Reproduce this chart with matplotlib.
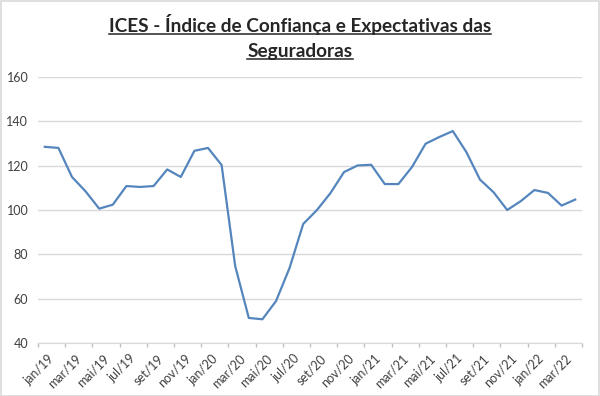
import matplotlib
matplotlib.use("Agg")
import matplotlib.pyplot as plt
from matplotlib.lines import Line2D
from matplotlib.patches import Rectangle

# monthly labels jan/19 .. abr/22
months = ['jan', 'fev', 'mar', 'abr', 'mai', 'jun', 'jul', 'ago', 'set', 'out', 'nov', 'dez']
labels = ['%s/%02d' % (m, y) for y in (19, 20, 21, 22) for m in months][:40]

ices = [128.5, 128.0, 114.9, 108.4, 100.6, 102.4, 110.8, 110.4, 110.8, 118.3,
        114.9, 126.7, 128.0, 120.3, 74.7, 51.3, 50.7, 58.9, 73.9, 93.7,
        99.9, 107.6, 117.1, 120.1, 120.4, 111.7, 111.7, 119.4, 129.9, 132.9,
        135.6, 126.1, 113.7, 108.0, 100.0, 104.0, 109.0, 107.7, 102.0, 104.7]

yticks = [40, 60, 80, 100, 120, 140, 160]
title_lines = ['ICES - Índice de Confiança e Expectativas das', 'Seguradoras']

W, H = 600, 396
fig = plt.figure(figsize=(6, 3.96), dpi=100)
fig.patch.set_facecolor('white')
fig.patches.append(Rectangle((0.5 / W, 0.5 / H), 1 - 1.5 / W, 1 - 1.5 / H, transform=fig.transFigure,
                             fill=False, edgecolor='#d9d9d9', lw=1.2))

ax = fig.add_axes([38 / W, 53 / H, 544 / W, 266 / H])
x = list(range(len(ices)))
ax.plot(x, ices, color='#5486bd', lw=1.6, solid_joinstyle='round')

ax.set_xlim(-0.5, len(ices) - 0.5)
ax.set_ylim(40, 160)
ax.set_yticks(yticks)
ax.set_yticklabels([str(v) for v in yticks], fontsize=9, color='#404040', family='Lato')
ax.yaxis.grid(True, color='#d9d9d9', lw=1)
ax.set_axisbelow(True)
ax.tick_params(axis='y', length=0, pad=7)

# category ticks between every 2 months, labels centred on the month
ax.set_xticks([i - 0.5 for i in range(0, len(ices) + 1, 2)], minor=False)
ax.set_xticklabels([])
ax.tick_params(axis='x', length=3, color='#bfbfbf', width=1, direction='out')
for i in range(0, len(ices), 2):
    ax.text(i + 0.25, 35.8, labels[i], rotation=45, ha='right', va='top', rotation_mode='anchor',
            fontsize=9, color='#404040', family='Lato')

for s in ['top', 'right', 'left']:
    ax.spines[s].set_visible(False)
ax.spines['bottom'].set_color('#d9d9d9')

# title, underlined by hand
fig.canvas.draw()
r = fig.canvas.get_renderer()
for txt, yb in zip(title_lines, [32, 57]):
    t = fig.text(0.5, 1 - yb / H, txt, ha='center', va='baseline', fontsize=13.7,
                 fontweight='bold', color='#262626', family='Lato')
    bb = t.get_window_extent(renderer=r)
    yl = 1 - (yb + 2) / H
    fig.lines.append(Line2D([bb.x0 / W, bb.x1 / W], [yl, yl], transform=fig.transFigure,
                            color='#262626', lw=1.1))

fig.savefig('out.png', dpi=100)
